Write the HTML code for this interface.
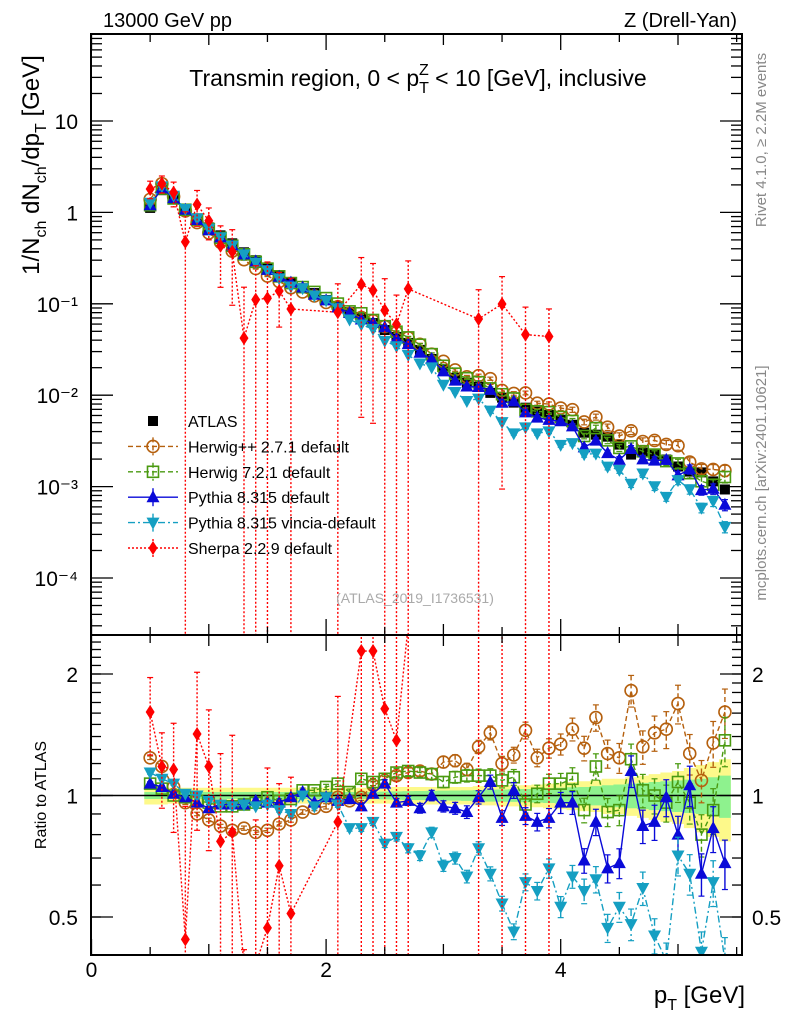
<!DOCTYPE html>
<html><head><meta charset="utf-8"><style>
html,body{margin:0;padding:0;background:#fff;overflow:hidden;width:786px;height:1024px;}
svg{display:block;font-family:"Liberation Sans",Arial,sans-serif;}
</style></head><body>
<svg id="chart" width="786" height="1024" viewBox="0 0 786 1024" xmlns="http://www.w3.org/2000/svg">
<defs>
<clipPath id="clipMain"><rect x="91" y="34" width="651" height="601"/></clipPath>
<clipPath id="clipRatio"><rect x="91" y="635" width="651" height="320"/></clipPath>
</defs>
<g id="bandLayer" clip-path="url(#clipRatio)"></g>
<g id="markLayerMain" clip-path="url(#clipMain)"></g>
<g id="markLayerRatio" clip-path="url(#clipRatio)"></g>
<g id="axisLayer"></g>
<text x="103" y="27" font-size="20">13000 GeV pp</text>
<text x="737" y="27" font-size="20" text-anchor="end">Z (Drell-Yan)</text>
<text x="418" y="86" font-size="23" text-anchor="middle">Transmin region, 0 &lt; p<tspan font-size="16" dy="7">T</tspan><tspan font-size="16" dx="-10" dy="-18">Z</tspan><tspan dy="11"> &lt; 10 [GeV], inclusive</tspan></text>
<text transform="translate(39,165) rotate(-90)" font-size="24" text-anchor="middle">1/N<tspan font-size="16" dy="7">ch</tspan><tspan dy="-7"> dN</tspan><tspan font-size="16" dy="7">ch</tspan><tspan dy="-7">/dp</tspan><tspan font-size="16" dy="7">T</tspan><tspan dy="-7"> [GeV]</tspan></text>
<text transform="translate(46,795) rotate(-90)" font-size="16" text-anchor="middle">Ratio to ATLAS</text>
<text x="745" y="1003" font-size="24" text-anchor="end">p<tspan font-size="16" dy="7">T</tspan><tspan dy="-7"> [GeV]</tspan></text>
<text transform="translate(766,140) rotate(-90)" font-size="15" fill="#888" text-anchor="middle">Rivet 4.1.0, ≥ 2.2M events</text>
<text transform="translate(766,483) rotate(-90)" font-size="15" fill="#888" text-anchor="middle">mcplots.cern.ch [arXiv:2401.10621]</text>
<text x="415" y="603" font-size="14" fill="#aaa" text-anchor="middle">(ATLAS_2019_I1736531)</text>
<g id="legend"></g>
</svg>
<script>
const xCenters = [0.5,0.6,0.7,0.8,0.9,1.0,1.1,1.2,1.3,1.4,1.5,1.6,1.7,1.8,1.9,2.0,2.1,2.2,2.3,2.4,2.5,2.6,2.7,2.8,2.9,3.0,3.1,3.2,3.3,3.4,3.5,3.6,3.7,3.8,3.9,4.0,4.1,4.2,4.3,4.4,4.5,4.6,4.7,4.8,4.9,5.0,5.1,5.2,5.3,5.4];
const atlas = [1.12,1.75,1.42,1.08,0.86,0.686,0.561,0.459,0.366,0.30,0.245,0.206,0.172,0.148,0.131,0.110,0.094,0.081,0.0716,0.0616,0.0517,0.0434,0.0373,0.0313,0.0249,0.0194,0.0155,0.0137,0.0124,0.0106,0.0094,0.0083,0.0073,0.0066,0.0061,0.0054,0.00475,0.00389,0.0037,0.00352,0.00288,0.00224,0.00236,0.00224,0.00198,0.00166,0.00146,0.00143,0.00114,0.00093];
const ratioHerwigPP = [1.24,1.18,1.05,0.96,0.90,0.87,0.84,0.82,0.83,0.81,0.82,0.85,0.87,0.91,0.93,0.94,0.99,0.97,0.99,1.06,1.09,1.12,1.14,1.15,1.13,1.21,1.22,1.16,1.32,1.43,1.20,1.26,1.45,1.24,1.31,1.34,1.46,1.31,1.56,1.27,1.24,1.82,1.32,1.43,1.46,1.69,1.27,1.09,1.35,1.61];
const ratioHerwig7 = [1.07,1.04,1.00,0.99,0.97,0.96,0.94,0.94,0.95,0.96,0.99,0.97,0.98,1.03,1.03,1.05,1.07,1.02,1.10,1.08,1.10,1.14,1.15,1.14,1.13,1.08,1.11,1.12,1.12,1.12,1.09,1.11,0.95,1.01,1.07,1.07,1.10,0.92,1.18,0.91,0.92,1.23,1.03,1.00,0.96,1.08,0.96,0.80,0.92,1.37];
const ratioPythia = [1.07,1.05,1.01,0.99,0.96,0.93,0.95,0.95,0.95,0.97,0.96,0.96,0.99,1.02,0.96,0.99,0.97,0.98,0.94,1.01,1.07,0.96,0.97,0.93,1.00,0.94,0.93,0.91,0.99,1.08,0.88,1.03,0.89,0.86,0.88,0.96,0.96,0.69,0.86,0.66,0.68,1.15,0.84,0.86,0.99,0.80,1.06,0.64,0.83,0.68];
const ratioVincia = [1.14,1.10,1.07,1.01,1.00,0.97,0.95,0.94,0.95,0.94,0.95,0.92,0.90,1.00,0.94,0.99,0.95,0.83,0.83,0.86,0.76,0.79,0.74,0.71,0.81,0.67,0.70,0.63,0.74,0.64,0.54,0.46,0.61,0.58,0.66,0.53,0.63,0.58,0.62,0.47,0.53,0.48,0.59,0.45,0.39,0.71,0.64,0.41,0.61,0.39];
const ratioSherpa = [1.61,1.18,1.16,0.44,1.42,1.18,0.77,0.81,0.115,0.37,0.47,0.67,0.51,null,null,null,0.86,null,2.28,2.28,1.64,1.37,3.9,null,null,null,null,null,5.5,null,10.6,null,6.3,null,7.2,null,null,null,null,null,null,null,null,null,null,null,null,null,null,null];
const errSherpa = [0.35,0.25,0.35,0.5,0.6,0.45,0.5,0.6,0.3,0.5,0.7,0.4,0.6,null,null,null,0.9,null,2.2,2.2,2.0,1.5,4.0,null,null,null,null,null,6.0,null,10.5,null,6.3,null,7.2,null,null,null,null,null,null,null,null,null,null,null,null,null,null,null];
const errMC = [0.01,0.01,0.01,0.01,0.01,0.01,0.01,0.01,0.012,0.012,0.012,0.012,0.013,0.013,0.014,0.015,0.016,0.017,0.018,0.02,0.022,0.024,0.026,0.028,0.03,0.032,0.034,0.036,0.038,0.04,0.042,0.045,0.048,0.05,0.055,0.06,0.065,0.07,0.075,0.08,0.085,0.09,0.095,0.1,0.105,0.11,0.115,0.12,0.13,0.14];
const bandTotal = [0.05,0.05,0.045,0.045,0.045,0.045,0.045,0.045,0.045,0.045,0.045,0.045,0.045,0.045,0.045,0.045,0.045,0.045,0.045,0.045,0.045,0.05,0.05,0.05,0.05,0.05,0.05,0.05,0.055,0.055,0.06,0.06,0.06,0.065,0.07,0.075,0.08,0.085,0.09,0.1,0.1,0.11,0.12,0.13,0.14,0.15,0.17,0.19,0.21,0.23];
const bandStat = [0.02,0.02,0.02,0.02,0.02,0.02,0.02,0.02,0.02,0.02,0.02,0.02,0.02,0.02,0.02,0.02,0.02,0.02,0.02,0.02,0.022,0.024,0.025,0.026,0.027,0.028,0.029,0.03,0.032,0.034,0.035,0.036,0.038,0.04,0.042,0.045,0.048,0.05,0.055,0.06,0.065,0.07,0.075,0.08,0.085,0.09,0.095,0.1,0.11,0.12];
const mainTickLabels = ["10⁻⁴","10⁻³","10⁻²","10⁻¹","1","10"];
const mainTickExps = [-4,-3,-2,-1,0,1];
const ratioTickValues = [0.5,1,2];
const ratioTickLabels = ["0.5","1","2"];
const xTickValues = [0,2,4];
const xTickLabels = ["0","2","4"];

const NS="http://www.w3.org/2000/svg";
const L=91,R=742,MT=34,MB=635,RB=955;
function X(v){return 91.5+117.3*v;}
function YM(v){return 212.4-91.4*Math.log10(v);}
function YR(r){return 795.5-121.5*Math.log2(r);}
function mk(tag,attrs,parent){const e=document.createElementNS(NS,tag);for(const k in attrs)e.setAttribute(k,attrs[k]);parent.appendChild(e);return e;}
const axis=document.getElementById('axisLayer');
const gM=document.getElementById('markLayerMain');
const gR=document.getElementById('markLayerRatio');
const gB=document.getElementById('bandLayer');

function bandPath(arr){let up="",dn="";for(let i=0;i<xCenters.length;i++){const x0=X(xCenters[i]-0.05),x1=X(xCenters[i]+0.05);up+=(i?"L":"M")+x0+","+YR(1+arr[i])+"L"+x1+","+YR(1+arr[i]);}
for(let i=xCenters.length-1;i>=0;i--){const x0=X(xCenters[i]-0.05),x1=X(xCenters[i]+0.05);dn+="L"+x1+","+YR(1-arr[i])+"L"+x0+","+YR(1-arr[i]);}return up+dn+"Z";}
const bt=mk('path',{d:bandPath(bandTotal),fill:'#fdf98a'},gB);


const bs=mk('path',{d:bandPath(bandStat),fill:'#8ef28e'},gB);


const one=mk('line',{x1:L,x2:R,y1:YR(1),y2:YR(1),stroke:'#000','stroke-width':1.5},gB);



function marker(type,x,y,color,parent){
  let e;
  if(type==='sq') e=mk('rect',{x:x-5,y:y-5,width:10,height:10,fill:'#000'},parent);
  else if(type==='circ') e=mk('circle',{cx:x,cy:y,r:6,fill:'none',stroke:color,'stroke-width':1.6},parent);
  else if(type==='osq') e=mk('rect',{x:x-5.5,y:y-5.5,width:11,height:11,fill:'none',stroke:color,'stroke-width':1.6},parent);
  else if(type==='tri') e=mk('path',{d:`M${x},${y-7}L${x+6.5},${y+5}L${x-6.5},${y+5}Z`,fill:color},parent);
  else if(type==='itri') e=mk('path',{d:`M${x},${y+7}L${x+6.5},${y-5}L${x-6.5},${y-5}Z`,fill:color},parent);
  else if(type==='dia') e=mk('path',{d:`M${x},${y-7}L${x+4.5},${y}L${x},${y+7}L${x-4.5},${y}Z`,fill:color},parent);
  return e;
}
const series=[
 {name:'herwigpp',ratio:ratioHerwigPP,err:errMC,color:'#b5600e',m:'circ',dash:'5,3',label:'Herwig++ 2.7.1 default'},
 {name:'herwig7',ratio:ratioHerwig7,err:errMC,color:'#4a9a10',m:'osq',dash:'5,3',label:'Herwig 7.2.1 default'},
 {name:'pythia',ratio:ratioPythia,err:errMC,color:'#0a0ad8',m:'tri',dash:'',label:'Pythia 8.315 default'},
 {name:'vincia',ratio:ratioVincia,err:errMC,color:'#159fc2',m:'itri',dash:'7,3,2,3',label:'Pythia 8.315 vincia-default'},
 {name:'sherpa',ratio:ratioSherpa,err:errSherpa,color:'#ff0000',m:'dia',dash:'2,2',label:'Sherpa 2.2.9 default'}
];
function clampLo(v){return v>0?v:1e-9;}
function cl(y,lo,hi){return Math.max(lo,Math.min(hi,y));}
function drawSeries(s,parent,mainPanel){
  const g=mk('g',{},parent);
  
  
  const lo=mainPanel?MT-10:MB-10, hi=mainPanel?MB+10:RB+10;
  let d="";
  const pts=[];
  for(let i=0;i<xCenters.length;i++){
    const r=s.ratio[i]; if(r===null){continue;}
    const val=mainPanel?atlas[i]*r:r;
    const e=(s.err===errSherpa)?s.err[i]:s.err[i]*r;
    const ev=mainPanel?atlas[i]*e:e;
    const yf=mainPanel?YM:YR;
    const x=X(xCenters[i]),y=yf(val);
    pts.push([x,cl(y,lo,hi)]);
    const yt=cl(yf(val+ev),lo,hi), yb=cl(yf(clampLo(val-ev)),lo,hi);
    const eb=mk('line',{x1:x,x2:x,y1:yt,y2:yb,stroke:s.color,'stroke-width':1.4,'stroke-dasharray':s.dash},g);
    
    
    mk('line',{x1:x-3,x2:x+3,y1:yt,y2:yt,stroke:s.color,'stroke-width':1.2},g);
    mk('line',{x1:x-3,x2:x+3,y1:yb,y2:yb,stroke:s.color,'stroke-width':1.2},g);
  }
  pts.forEach((p,k)=>{d+=(k?"L":"M")+p[0]+","+p[1];});
  const ln=mk('path',{d:d,fill:'none',stroke:s.color,'stroke-width':1.4,'stroke-dasharray':s.dash},g);
  
  
  pts.forEach(p=>{const m=marker(s.m,p[0],p[1],s.color,g);
    
    });
}
const ga=mk('g',{},gM);


for(let i=0;i<xCenters.length;i++){
  const m=marker('sq',X(xCenters[i]),YM(atlas[i]),'#000',ga);
  
  
}
series.forEach(s=>{drawSeries(s,gM,true);drawSeries(s,gR,false);});

const f1=mk('rect',{x:L,y:MT,width:R-L,height:MB-MT,fill:'none',stroke:'#000','stroke-width':2},axis);


const f2=mk('rect',{x:L,y:MB,width:R-L,height:RB-MB,fill:'none',stroke:'#000','stroke-width':2},axis);


function tick(x1,y1,x2,y2){mk('line',{x1:x1,y1:y1,x2:x2,y2:y2,stroke:'#000','stroke-width':1.3},axis);}
for(let k=-5;k<=1;k++){for(let m=1;m<=9;m++){const v=m*Math.pow(10,k);const y=YM(v);if(y<MT||y>MB)continue;const len=m===1?22:11;tick(L,y,L+len,y);tick(R,y,R-len,y);}}
mainTickExps.forEach((e,i)=>{const t=mk('text',{x:78,y:YM(Math.pow(10,e))+8,'font-size':21,'text-anchor':'end'},axis);t.textContent=mainTickLabels[i];
  
  });
for(let v=0.4;v<2.6;v+=0.1){const y=YR(v);if(y<MB||y>RB)continue;tick(L,y,L+10,y);tick(R,y,R-10,y);}
ratioTickValues.forEach((v,i)=>{const y=YR(v);tick(L,y,L+22,y);tick(R,y,R-22,y);
  const t=mk('text',{x:78,y:y+8,'font-size':21,'text-anchor':'end'},axis);t.textContent=ratioTickLabels[i];
  
  
  const t2=mk('text',{x:752,y:y+8,'font-size':21},axis);t2.textContent=ratioTickLabels[i];
  
  });
for(let v=0;v<=5.5;v+=0.5){const x=X(v);const major=Math.abs(v-Math.round(v))<0.01;const len=major?(Math.round(v)%2===0?16:11):8;
  tick(x,MT,x,MT+len);tick(x,MB,x,MB-len);tick(x,MB,x,MB+len);tick(x,RB,x,RB-len);}
xTickValues.forEach((v,i)=>{const t=mk('text',{x:X(v),y:977,'font-size':21,'text-anchor':'middle'},axis);t.textContent=xTickLabels[i];
  
  });

const lg=document.getElementById('legend');
const rows=[{m:'sq',color:'#000',dash:null,label:'ATLAS'}].concat(series);
rows.forEach((s,i)=>{
  const y=421+i*25.4;
  const g=mk('g',{},lg);
  
  
  if(s.dash!==null){mk('line',{x1:128,x2:178,y1:y,y2:y,stroke:s.color,'stroke-width':1.4,'stroke-dasharray':s.dash},g);
    mk('line',{x1:153,x2:153,y1:y-9,y2:y+9,stroke:s.color,'stroke-width':1.4,'stroke-dasharray':s.dash},g);}
  marker(s.m,153,y,s.color,g);
  const t=mk('text',{x:188,y:y+6,'font-size':16},g);t.textContent=s.label;
});
</script>
</body></html>
